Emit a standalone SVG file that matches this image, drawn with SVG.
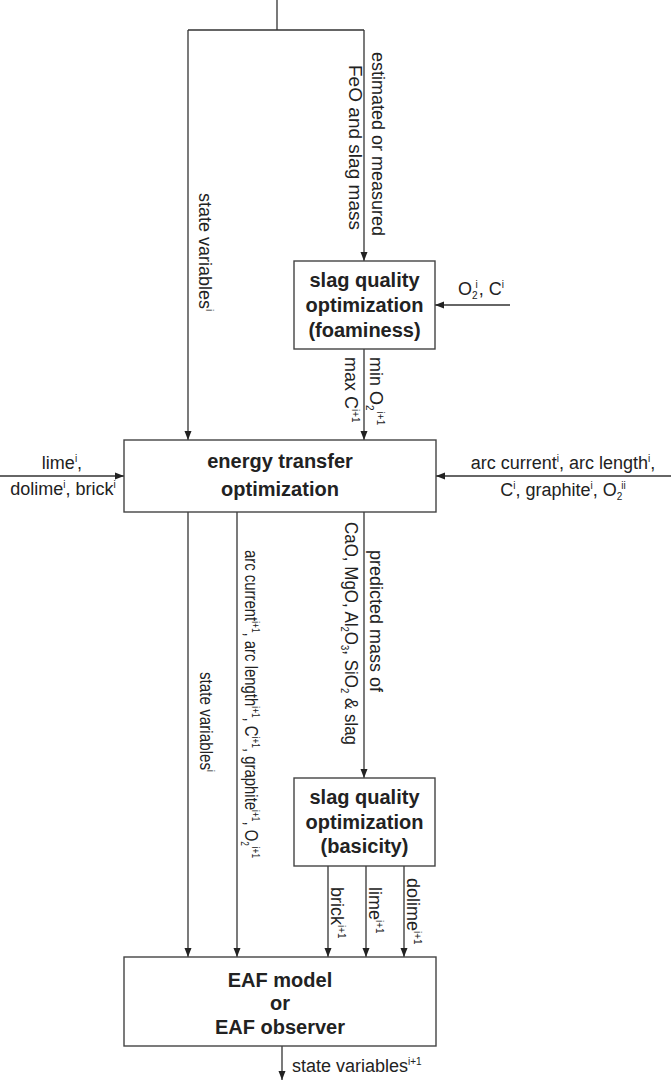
<svg xmlns="http://www.w3.org/2000/svg" width="671" height="1083" viewBox="0 0 671 1083">
<style>
.box{fill:#fff;stroke:#444;stroke-width:1.4}
.ln{fill:none;stroke:#333;stroke-width:1.3}
.t{font-family:"Liberation Sans",Arial,sans-serif;font-size:18px;fill:#222}
.b{font-family:"Liberation Sans",Arial,sans-serif;font-size:20px;font-weight:bold;fill:#222;text-anchor:middle}
.s{font-size:10px}
</style>
<defs>
<marker id="ah" markerWidth="9" markerHeight="8" refX="9" refY="4" orient="auto" markerUnits="userSpaceOnUse">
<path d="M0,0.5 L9,4 L0,7.5 z" fill="#222"/>
</marker>
</defs>
<rect width="671" height="1083" fill="#fff"/>

<g id="connectors">
<path class="ln" d="M277,0 V30 M188,30 H364"/>
<path class="ln" d="M188,30 V440" marker-end="url(#ah)"/>
<path class="ln" d="M364,30 V261" marker-end="url(#ah)"/>
<path class="ln" d="M510,305 H435" marker-end="url(#ah)"/>
<path class="ln" d="M364,349 V440" marker-end="url(#ah)"/>
<path class="ln" d="M0,476 H124" marker-end="url(#ah)"/>
<path class="ln" d="M671,476 H436" marker-end="url(#ah)"/>
<path class="ln" d="M188,512 V957" marker-end="url(#ah)"/>
<path class="ln" d="M237,512 V957" marker-end="url(#ah)"/>
<path class="ln" d="M364,512 V778" marker-end="url(#ah)"/>
<path class="ln" d="M328,866 V957" marker-end="url(#ah)"/>
<path class="ln" d="M366,866 V957" marker-end="url(#ah)"/>
<path class="ln" d="M404,866 V957" marker-end="url(#ah)"/>
<path class="ln" d="M282,1046 V1080" marker-end="url(#ah)"/>
</g>

<g id="labels">
<text class="t" transform="translate(372,52) rotate(90)">estimated or measured</text>
<text class="t" transform="translate(349,65) rotate(90)" textLength="165" lengthAdjust="spacingAndGlyphs">FeO and slag mass</text>
<text class="t" transform="translate(199,193) rotate(90)">state variables<tspan class="s" dy="-7">i</tspan></text>
<text class="t" x="458" y="295">O<tspan class="s" dy="4">2</tspan><tspan class="s" dx="-2" dy="-11">i</tspan><tspan dx="1" dy="7">, C</tspan><tspan class="s" dy="-7">i</tspan></text>
<text class="t" transform="translate(370,357) rotate(90)">min O<tspan class="s" dy="4">2</tspan><tspan class="s" dx="1" dy="-11">i+1</tspan></text>
<text class="t" transform="translate(345,357) rotate(90)">max C<tspan class="s" dy="-7">i+1</tspan></text>
<text class="t" x="62" y="469" text-anchor="middle">lime<tspan class="s" dy="-7">i</tspan><tspan dy="7">,</tspan></text>
<text class="t" x="63" y="495" text-anchor="middle">dolime<tspan class="s" dy="-7">i</tspan><tspan dy="7">, brick</tspan><tspan class="s" dy="-7">i</tspan></text>
<text class="t" x="563" y="469" text-anchor="middle">arc current<tspan class="s" dy="-7">i</tspan><tspan dy="7">, arc length</tspan><tspan class="s" dy="-7">i</tspan><tspan dy="7">,</tspan></text>
<text class="t" x="563" y="496" text-anchor="middle">C<tspan class="s" dy="-7">i</tspan><tspan dy="7">, graphite</tspan><tspan class="s" dy="-7">i</tspan><tspan dy="7">, O</tspan><tspan class="s" dy="4">2</tspan><tspan class="s" dx="-1" dy="-11">ii</tspan></text>
<text class="t" transform="translate(200,672) rotate(90)" textLength="100" lengthAdjust="spacingAndGlyphs">state variables<tspan class="s" dy="-7">i</tspan></text>
<text class="t" transform="translate(245,550) rotate(90)" textLength="308" lengthAdjust="spacingAndGlyphs">arc current<tspan class="s" dy="-7">i+1</tspan><tspan dy="7">, arc length</tspan><tspan class="s" dy="-7">i+1</tspan><tspan dy="7">, C</tspan><tspan class="s" dy="-7">i+1</tspan><tspan dy="7">, graphite</tspan><tspan class="s" dy="-7">i+1</tspan><tspan dy="7">, O</tspan><tspan class="s" dy="4">2</tspan><tspan class="s" dx="1" dy="-11">i+1</tspan></text>
<text class="t" transform="translate(370,550) rotate(90)">predicted mass of</text>
<text class="t" transform="translate(345,522) rotate(90)" textLength="223" lengthAdjust="spacingAndGlyphs">CaO, MgO, Al<tspan class="s" dy="4">2</tspan><tspan dy="-4">O</tspan><tspan class="s" dy="4">3</tspan><tspan dy="-4">, SiO</tspan><tspan class="s" dy="4">2</tspan><tspan dy="-4"> &amp; slag</tspan></text>
<text class="t" transform="translate(331,887) rotate(90)">brick<tspan class="s" dy="-7">i+1</tspan></text>
<text class="t" transform="translate(369,887) rotate(90)">lime<tspan class="s" dy="-7">i+1</tspan></text>
<text class="t" transform="translate(407,878) rotate(90)">dolime<tspan class="s" dy="-7">i+1</tspan></text>
<text class="t" x="292" y="1072" font-size="16">state variables<tspan class="s" dy="-7">i+1</tspan></text>
</g>

<g id="foaminess">
<rect class="box" x="294" y="261" width="141" height="88"/>
<text class="b" x="364.5" y="287">slag quality</text>
<text class="b" x="364.5" y="312">optimization</text>
<text class="b" x="364.5" y="337">(foaminess)</text>
</g>

<g id="energy">
<rect class="box" x="124" y="440" width="312" height="72"/>
<text class="b" x="280" y="468">energy transfer</text>
<text class="b" x="280" y="496">optimization</text>
</g>

<g id="basicity">
<rect class="box" x="294" y="778" width="141" height="88"/>
<text class="b" x="364.5" y="804">slag quality</text>
<text class="b" x="364.5" y="829">optimization</text>
<text class="b" x="364.5" y="853">(basicity)</text>
</g>

<g id="eaf">
<rect class="box" x="124" y="957" width="312" height="89"/>
<text class="b" x="280" y="987">EAF model</text>
<text class="b" x="280" y="1010">or</text>
<text class="b" x="280" y="1034">EAF observer</text>
</g>
</svg>
